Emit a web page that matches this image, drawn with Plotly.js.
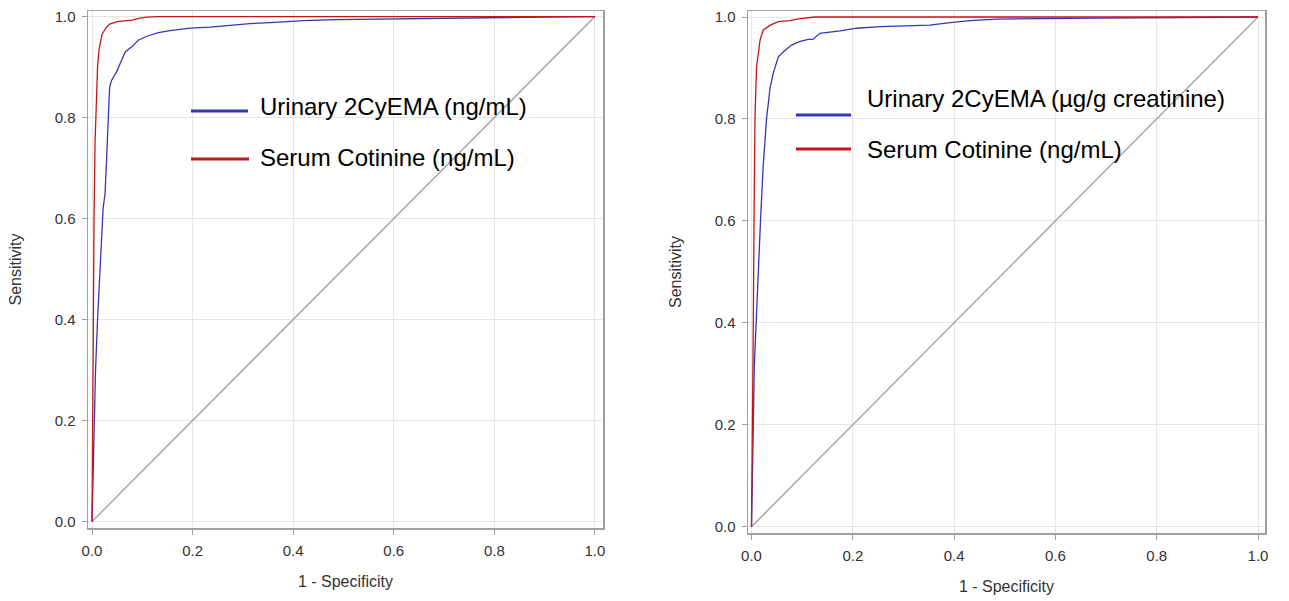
<!DOCTYPE html>
<html>
<head>
<meta charset="utf-8">
<script src="https://cdn.plot.ly/plotly-3.0.1.min.js"></script>
<style>html,body{margin:0;padding:0;background:#fff;}#chart{width:1289px;height:601px;}</style>
</head>
<body>
<div id="chart"></div>
<script>
// ---- Data (ROC curves) ----
const diagonalX = [0, 1];
const diagonalY = [0, 1];

// Left panel: Urinary 2CyEMA (ng/mL)
const leftUrinaryFpr = [0,0.002,0.004,0.007,0.011,0.015,0.018,0.020,0.022,0.026,0.029,0.031,0.033,0.035,0.039,0.049,0.056,0.066,0.079,0.092,0.109,0.132,0.155,0.195,0.235,0.274,0.314,0.354,0.42,0.486,0.618,0.75,0.9,1];
const leftUrinaryTpr = [0,0.10,0.20,0.30,0.40,0.48,0.54,0.60,0.62,0.65,0.73,0.79,0.83,0.86,0.874,0.891,0.907,0.93,0.94,0.953,0.961,0.968,0.972,0.977,0.979,0.983,0.986,0.988,0.992,0.994,0.996,0.998,0.999,1];
// Left panel: Serum Cotinine (ng/mL)
const leftSerumFpr = [0,0.001,0.002,0.004,0.006,0.008,0.011,0.014,0.020,0.028,0.035,0.050,0.065,0.080,0.095,0.110,0.130,1];
const leftSerumTpr = [0,0.20,0.40,0.60,0.75,0.82,0.90,0.935,0.965,0.978,0.985,0.990,0.992,0.993,0.997,0.999,1,1];

// Right panel: Urinary 2CyEMA (µg/g creatinine)
const rightUrinaryFpr = [0,0.001,0.0036,0.0055,0.009,0.0135,0.018,0.023,0.030,0.034,0.0365,0.043,0.053,0.063,0.079,0.096,0.112,0.121,0.127,0.135,0.175,0.208,0.254,0.30,0.352,0.392,0.431,0.484,0.55,0.68,0.85,1];
const rightUrinaryTpr = [0,0.086,0.20,0.314,0.40,0.51,0.605,0.706,0.804,0.837,0.860,0.890,0.922,0.932,0.945,0.952,0.956,0.956,0.961,0.968,0.973,0.978,0.981,0.983,0.984,0.989,0.993,0.996,0.997,0.998,0.999,1];
// Right panel: Serum Cotinine (ng/mL)
const rightSerumFpr = [0,0.0024,0.0036,0.005,0.0069,0.010,0.017,0.023,0.037,0.053,0.076,0.096,0.109,0.125,1];
const rightSerumTpr = [0,0.20,0.40,0.605,0.804,0.902,0.955,0.974,0.984,0.991,0.993,0.997,0.999,1,1];

const legendLeft = ["Urinary 2CyEMA (ng/mL)", "Serum Cotinine (ng/mL)"];
const legendRight = ["Urinary 2CyEMA (µg/g creatinine)", "Serum Cotinine (ng/mL)"];
const xTitle = "1 - Specificity";
const yTitle = "Sensitivity";
const tickVals = [0, 0.2, 0.4, 0.6, 0.8, 1.0];
const tickText = ["0.0", "0.2", "0.4", "0.6", "0.8", "1.0"];

// ---- Styles ----
const BLUE = "#3636b4";
const RED = "#c01818";
const GRAY = "#a8a8a8";
const W = 1289, H = 601;
const px = v => v / W;
const py = v => 1 - v / H;
const tickFont = {family: "Liberation Sans Narrow, Arial Narrow, Liberation Sans, Arial, sans-serif", size: 15, color: "#333333"};
const titleFont = {family: "Liberation Sans, Arial, sans-serif", size: 16, color: "#333333"};
const legFont = {family: "Liberation Sans, Arial, sans-serif", size: 24, color: "#000000"};

function line(x, y, color, xa, ya, w) {
  return {x: x, y: y, xaxis: xa, yaxis: ya, type: "scatter", mode: "lines",
          line: {color: color, width: w}, hoverinfo: "skip", showlegend: false};
}

const traces = [
  line(diagonalX, diagonalY, GRAY, "x", "y", 1.5),
  line(leftUrinaryFpr, leftUrinaryTpr, BLUE, "x", "y", 1.3),
  line(leftSerumFpr, leftSerumTpr, RED, "x", "y", 1.3),
  line(diagonalX, diagonalY, GRAY, "x2", "y2", 1.5),
  line(rightUrinaryFpr, rightUrinaryTpr, BLUE, "x2", "y2", 1.3),
  line(rightSerumFpr, rightSerumTpr, RED, "x2", "y2", 1.3)
];

function axis(domain, range, anchor, isY) {
  return {
    domain: domain, range: range, anchor: anchor, autorange: false,
    showline: true, mirror: true, linecolor: "#a0a0a0", linewidth: 1.5,
    showgrid: true, gridcolor: "#e6e6e6", gridwidth: 1, zeroline: false,
    ticks: "outside", ticklen: 5, tickcolor: "#a0a0a0", tickwidth: 1,
    tickmode: "array", tickvals: tickVals, ticktext: tickText,
    tickfont: tickFont, ticklabelstandoff: 3,
    title: {text: isY ? yTitle : xTitle, font: titleFont, standoff: isY ? 29 : 18},
    automargin: false, fixedrange: true
  };
}

const layout = {
  width: W, height: H,
  margin: {l: 0, r: 0, t: 0, b: 0},
  paper_bgcolor: "#ffffff", plot_bgcolor: "#ffffff",
  showlegend: false,
  xaxis: axis([px(88), px(603)], [-0.008, 1.016], "y", false),
  yaxis: axis([py(528), py(11)], [-0.013, 1.011], "x", true),
  xaxis2: axis([px(748), px(1265)], [-0.0069, 1.0138], "y2", false),
  yaxis2: axis([py(533), py(11)], [-0.0124, 1.0118], "x2", true),
  shapes: [
    {type: "line", xref: "paper", yref: "paper", x0: px(191), x1: px(248), y0: py(111), y1: py(111), line: {color: BLUE, width: 3}},
    {type: "line", xref: "paper", yref: "paper", x0: px(191), x1: px(249), y0: py(159), y1: py(159), line: {color: RED, width: 3}},
    {type: "line", xref: "paper", yref: "paper", x0: px(796), x1: px(851), y0: py(115), y1: py(115), line: {color: BLUE, width: 3}},
    {type: "line", xref: "paper", yref: "paper", x0: px(796), x1: px(851), y0: py(149), y1: py(149), line: {color: RED, width: 3}}
  ],
  annotations: [
    {xref: "paper", yref: "paper", x: px(258), y: py(106), xanchor: "left", yanchor: "middle", showarrow: false, text: legendLeft[0], font: legFont},
    {xref: "paper", yref: "paper", x: px(258), y: py(157), xanchor: "left", yanchor: "middle", showarrow: false, text: legendLeft[1], font: legFont},
    {xref: "paper", yref: "paper", x: px(865), y: py(99), xanchor: "left", yanchor: "middle", showarrow: false, text: legendRight[0], font: legFont},
    {xref: "paper", yref: "paper", x: px(865), y: py(149), xanchor: "left", yanchor: "middle", showarrow: false, text: legendRight[1], font: legFont}
  ]
};

Plotly.newPlot("chart", traces, layout, {staticPlot: true, displayModeBar: false});
</script>
</body>
</html>
